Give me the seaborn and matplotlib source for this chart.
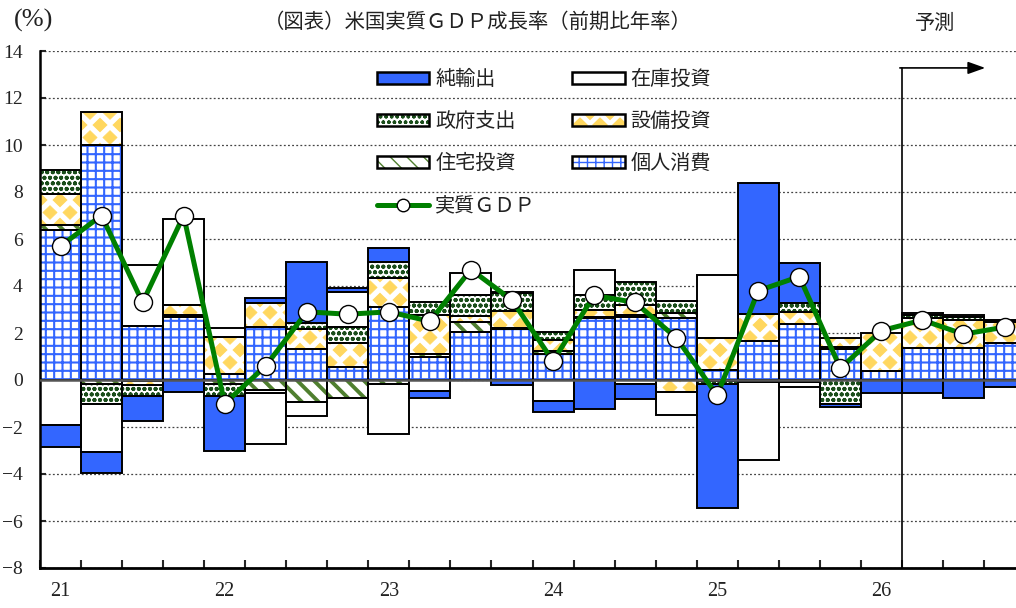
import numpy as np
import pandas as pd
import matplotlib
matplotlib.use("Agg")
import matplotlib.pyplot as plt
import matplotlib.hatch as mhatch
from matplotlib.path import Path
import seaborn as sns
from matplotlib.patches import Patch
from matplotlib.lines import Line2D
from matplotlib.legend_handler import HandlerTuple

# ---------------- data ----------------
quarters = ["21Q1", "21Q2", "21Q3", "21Q4", "22Q1", "22Q2", "22Q3", "22Q4",
            "23Q1", "23Q2", "23Q3", "23Q4", "24Q1", "24Q2", "24Q3", "24Q4",
            "25Q1", "25Q2", "25Q3", "25Q4", "26Q1", "26Q2", "26Q3", "26Q4"]
year_labels = ["21", "22", "23", "24", "25", "26"]

pce = [6.4, 10.0, 2.3, 2.7, 0.25, 2.24, 1.3, 0.54, 3.12, 1.0, 2.06, 2.16,
       1.1, 2.65, 2.7, 2.65, 0.43, 1.67, 2.38, 1.3, 0.38, 1.35, 1.38, 1.57]
res = [0.2, -0.15, -0.05, 0.05, -0.15, -0.43, -0.92, -0.78, -0.15, 0.12, 0.39, 0.05,
       0.15, 0.05, 0.05, 0.2, -0.05, -0.1, -0.1, 0.1, 0.0, 0.0, 0.0, 0.0]
equip = [1.3, 1.4, -0.15, 0.45, 1.6, 1.02, 0.86, 1.02, 1.21, 1.66, 0.27, 0.73,
         0.45, 0.3, 0.45, -0.5, 1.34, 1.14, 0.53, 0.4, 1.62, 1.3, 1.18, 0.9]
gov = [1.05, -0.88, -0.5, 0.0, -0.55, -0.14, 0.25, 0.68, 0.68, 0.54, 0.9, 0.75,
       0.35, 0.6, 0.95, 0.5, -0.1, 0.0, 0.35, -1.0, 0.0, 0.1, 0.1, 0.05]
inv = [-1.9, -2.03, 2.58, 3.65, 0.37, -2.15, -0.61, 1.52, -2.14, -0.45, 0.92, 0.07,
       -0.9, 1.1, -0.15, -1.0, 2.7, -3.3, -0.2, 0.0, 0.0, 0.1, 0.1, 0.05]
nx = [-0.95, -0.89, -1.03, -0.5, -2.3, 0.24, 2.63, 0.14, 0.6, -0.3, 0.0, -0.2,
      -0.47, -1.22, -0.65, 0.0, -5.28, 5.59, 1.71, -0.15, -0.55, -0.55, -0.78, -0.3]
gdp = [5.7, 7.0, 3.3, 7.0, -1.0, 0.6, 2.9, 2.8, 2.9, 2.5, 4.7, 3.4,
       0.8, 3.6, 3.3, 1.8, -0.65, 3.8, 4.4, 0.5, 2.1, 2.55, 1.95, 2.25]


# ---------------- custom diamond hatch (replaces the '*' star hatch) ----------------
class _Diamonds(mhatch.HatchPatternBase):
    ncol = 5
    nrow = 8
    rad_x = 0.07
    rad_y = 0.068

    def __init__(self, hatch, density):
        self.count = hatch.count("*")
        if self.count == 0:
            self.num_vertices = 0
            self.centers = []
            return
        centers = []
        for r in range(self.nrow + 1):
            y = r / self.nrow
            if r % 2 == 0:
                xs = np.linspace(0, 1, self.ncol + 1)
            else:
                xs = (np.arange(self.ncol) + 0.5) / self.ncol
            for xx in xs:
                centers.append((xx, y))
        self.centers = centers
        self.num_vertices = len(centers) * 5

    def set_vertices_and_codes(self, vertices, codes):
        shape = np.array([[0, 1], [1, 0], [0, -1], [-1, 0], [0, 1]], float)
        shape[:, 0] *= self.rad_x
        shape[:, 1] *= self.rad_y
        sc = np.array([Path.MOVETO, Path.LINETO, Path.LINETO, Path.LINETO, Path.CLOSEPOLY],
                      dtype=Path.code_type)
        vs, cs = [], []
        for c in self.centers:
            vs.append(shape + np.array(c))
            cs.append(sc)
        np.concatenate(vs, out=vertices)
        np.concatenate(cs, out=codes)


mhatch._hatch_types = [(_Diamonds if t is mhatch.Stars else t) for t in mhatch._hatch_types]

# ---------------- style ----------------
sns.set_theme(style="white")
plt.rcParams["font.family"] = ["Noto Sans CJK JP", "DejaVu Sans"]
plt.rcParams["axes.unicode_minus"] = True

BLUE = "#3366FF"
styles = {
    "個人消費": dict(face="white", hatch="++", hcolor=BLUE, hlw=1.5),
    "住宅投資": dict(face="white", hatch="\\\\", hcolor="#4F7F2F", hlw=2.8),
    "設備投資": dict(face="white", hatch="*", hcolor="#FFD75E", hlw=0.6),
    "政府支出": dict(face="white", hatch="ooo", hcolor="#1A4D1A", hlw=1.3),
    "在庫投資": dict(face="white", hatch=None, hcolor="white", hlw=1.0),
    "純輸出": dict(face=BLUE, hatch=None, hcolor=BLUE, hlw=1.0),
}
components = [("個人消費", pce), ("住宅投資", res), ("設備投資", equip),
              ("政府支出", gov), ("在庫投資", inv), ("純輸出", nx)]


def set_hlw(patch, lw):
    if hasattr(patch, "set_hatch_linewidth"):
        patch.set_hatch_linewidth(lw)
    else:
        patch._hatch_linewidth = lw


fig = plt.figure(figsize=(10.16, 6.08), dpi=100)
ax = fig.add_axes([40 / 1016, 40 / 608, 976 / 1016, 517 / 608])

n = len(quarters)
x = np.arange(n)
pos_b = np.zeros(n)
neg_b = np.zeros(n)
handles = {}
for name, vals in components:
    st = styles[name]
    v = np.asarray(vals, dtype=float)
    bottom = np.where(v >= 0, pos_b, neg_b)
    m = v != 0
    with plt.rc_context({"hatch.linewidth": st["hlw"]}):
        b1 = ax.bar(x[m], v[m], bottom=bottom[m], width=1.0, color=st["face"],
                    hatch=st["hatch"], edgecolor=st["hcolor"], linewidth=0, zorder=2)
        for p in b1.patches:
            set_hlw(p, st["hlw"])
        ax.bar(x[m], v[m], bottom=bottom[m], width=1.0, fill=False,
               edgecolor="black", linewidth=1.4, zorder=3)
        h1 = Patch(facecolor=st["face"], hatch=st["hatch"], edgecolor=st["hcolor"], linewidth=0)
        set_hlw(h1, st["hlw"])
    h2 = Patch(fill=False, edgecolor="black", linewidth=1.8)
    handles[name] = (h1, h2)
    pos_b += np.where(v > 0, v, 0)
    neg_b += np.where(v < 0, v, 0)

ax.axhline(0, color="#555555", lw=1.8, zorder=4)

df = pd.DataFrame({"x": x, "gdp": gdp})
sns.lineplot(data=df, x="x", y="gdp", ax=ax, color="#008000", lw=3.6, marker="o",
             markersize=13, markerfacecolor="white", markeredgecolor="black",
             markeredgewidth=1.0, zorder=6, legend=False)

# forecast marker
ax.plot([20.5, 20.5], [-8, 13.28], color="black", lw=1.2, zorder=4)
ax.annotate("", xy=(22.53, 13.28), xytext=(20.45, 13.28),
            arrowprops=dict(arrowstyle="-|>,head_length=0.7,head_width=0.25",
                            color="black", lw=1.2, mutation_scale=15, shrinkA=0, shrinkB=0),
            zorder=4)

# axes
ax.set_yticks(np.arange(-8, 15, 2))
ax.set_xticks(np.arange(0, n, 4))
ax.set_xticklabels(year_labels)
ax.set_xticks(np.arange(-0.5, n, 1), minor=True)
ax.set_xlim(-0.5, 23.28)
ax.set_ylim(-8, 14)
ax.yaxis.grid(True, color="#444444", linestyle=(0, (1.5, 1.8)), linewidth=0.9, zorder=0)
ax.set_axisbelow(True)
for s in ["top", "right"]:
    ax.spines[s].set_visible(False)
ax.spines["left"].set_color("black")
ax.spines["left"].set_linewidth(1.8)
ax.spines["bottom"].set_color("black")
ax.spines["bottom"].set_linewidth(2.0)
ax.tick_params(axis="y", direction="in", length=4, width=1.5, left=True, pad=12.5,
               labelsize=14, labelcolor="#222222")
for t in ax.get_yticklabels():
    t.set_family(["Liberation Serif", "DejaVu Serif"])
ax.tick_params(axis="x", which="major", length=0, pad=10, labelsize=14.5, labelcolor="#222222")
ax.tick_params(axis="x", which="minor", direction="in", length=6, width=1.5, bottom=True)
for t in ax.get_xticklabels():
    t.set_family(["Liberation Serif", "DejaVu Serif"])
ax.set_xlabel("")
ax.set_ylabel("")

# legend
gdp_handle = Line2D([], [], color="#008000", lw=3.6, marker="o", markersize=9,
                    markerfacecolor="white", markeredgecolor="black")
order = ["純輸出", "政府支出", "住宅投資", "実質ＧＤＰ", "在庫投資", "設備投資", "個人消費"]
hl = [gdp_handle if k == "実質ＧＤＰ" else handles[k] for k in order]
leg = fig.legend(hl, order, loc="upper left", bbox_to_anchor=(377 / 1016, 1 - 69 / 608),
                 ncol=2, frameon=False, fontsize=14.5, handlelength=2.6, handleheight=0.5,
                 handletextpad=0.3, labelspacing=1.05, columnspacing=1.8, borderpad=0,
                 borderaxespad=0, handler_map={tuple: HandlerTuple(ndivide=1, pad=0)})
for t in leg.get_texts():
    t.set_color("#222222")

# texts
fig.text(478 / 1016, 1 - 22 / 608, "（図表）米国実質ＧＤＰ成長率（前期比年率）", ha="center",
         va="center", fontsize=14.7, color="#222222")
fig.text(935 / 1016, 1 - 23 / 608, "予測", ha="center", va="center", fontsize=14.5, color="#222222")
fig.text(34 / 1016, 1 - 20 / 608, "(%)", ha="center", va="center", fontsize=19,
         family=["Liberation Serif", "DejaVu Serif"], color="#222222")

fig.savefig("out.png", dpi=100)
